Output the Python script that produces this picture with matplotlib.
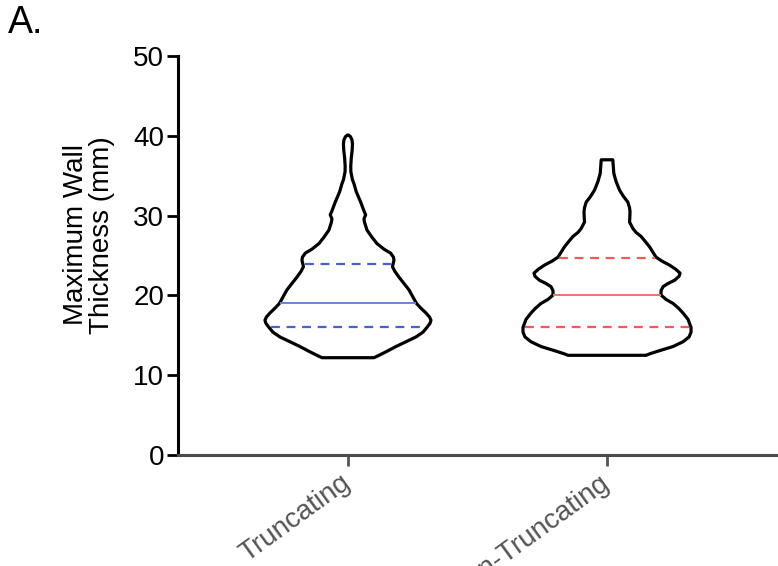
import numpy as np
import matplotlib
matplotlib.use('Agg')
import matplotlib.pyplot as plt

plt.rcParams.update({'font.family': 'Liberation Sans'})

groups = ['Truncating', 'Non-Truncating']

# violin outlines: wall thickness (mm) and relative density (half-width)
trunc_y = [12.2, 12.5, 13.0, 13.6, 14.2, 14.8, 15.4, 16.0, 16.5, 16.9, 17.3, 17.8,
           18.4, 19.0, 19.8, 20.7, 21.5, 22.3, 23.0, 23.6, 23.9, 24.4, 24.8, 25.3,
           25.8, 26.5, 27.3, 28.2, 29.2, 29.6, 30.1, 30.6, 31.7, 32.2, 33.0, 34.0,
           34.5, 35.5, 36.2, 37.2, 38.2, 39.0, 39.5, 39.9, 40.1]
trunc_d = [26, 31, 39, 48, 58, 68, 75, 79, 82, 83, 81.5, 78,
           73, 68.5, 65, 61, 56, 51, 47, 44.5, 45, 46, 45.5, 42.7,
           36, 29, 24, 19, 16.5, 16, 17.7, 16, 12.7, 11, 8.3, 6,
           4.5, 2.9, 2.8, 3.3, 4.2, 4.5, 4, 2.5, 0.5]

nontrunc_y = [12.5, 12.7, 13.1, 13.6, 14.2, 14.8, 15.4, 16.0, 17.0, 17.8, 18.4, 19.0,
              19.5, 20.05, 20.6, 21.1, 21.5, 21.9, 22.4, 22.8, 23.3, 23.8, 24.3, 24.8,
              25.5, 26.1, 26.8, 27.4, 27.9, 28.4, 29.2, 29.8, 30.5, 31.0, 31.7, 32.4,
              33.2, 34.3, 35.3, 36.3, 37.0]
nontrunc_d = [39, 43, 53, 66, 76, 82, 84, 84, 81, 76, 71.5, 66,
              59, 54, 54, 56, 61, 67.5, 72, 73, 68.5, 62.5, 55, 49,
              45.5, 42.5, 38, 34, 29, 25.8, 22.5, 22.8, 23, 22.5, 20.8, 16.5,
              12.5, 9, 6.8, 6.2, 5.8]

# 25th, 50th, 75th percentiles
trunc_q = [16.0, 19.0, 24.0]
nontrunc_q = [16.0, 20.0, 24.7]

profiles = [(trunc_y, trunc_d, trunc_q, '#4463cc', '#6a84da'),
            (nontrunc_y, nontrunc_d, nontrunc_q, '#f05a5a', '#f27272')]
scale = 1 / 259.0

fig = plt.figure(figsize=(7.78, 5.66), dpi=100)
ax = fig.add_axes([0.2288, 0.196, 0.7712, 0.705])

for i, (yy, dd, qq, qcol, mcol) in enumerate(profiles):
    yy = np.array(yy)
    hw = np.array(dd) * scale
    xs = np.concatenate([i - hw, (i + hw)[::-1]])
    ys = np.concatenate([yy, yy[::-1]])
    ax.fill(xs, ys, facecolor='white', edgecolor='black', lw=2.3, joinstyle='round', zorder=2)
    for k, q in enumerate(qq):
        w = np.interp(q, yy, hw) - 0.007
        if k == 1:
            ax.plot([i - w, i + w], [q, q], color=mcol, lw=1.4, zorder=3)
        else:
            ax.plot([i - w, i + w], [q, q], color=qcol, lw=1.6, ls=(0, (4, 3)), zorder=3)

ax.set_xlim(-0.656, 1.66)
ax.set_ylim(0, 50)
ax.set_yticks(range(0, 51, 10))
ax.set_xticks(range(len(groups)))
ax.set_xticklabels(groups, rotation=36, ha='right', va='center', rotation_mode='anchor',
                   fontsize=20, color='#555555')
ax.tick_params(axis='y', labelsize=20, length=8, width=2.0, pad=2)
ax.tick_params(axis='x', length=8, width=2.0, color='#555555', pad=10)
for s in ['top', 'right']:
    ax.spines[s].set_visible(False)
ax.spines['left'].set_linewidth(2.2)
ax.spines['bottom'].set_linewidth(2.2)
ax.spines['bottom'].set_color('#4a4a4a')

fig.text(0.114, 0.585, 'Maximum Wall\nThickness (mm)', rotation=90, fontsize=20,
         ha='center', va='center', multialignment='center', linespacing=1.0)

fig.text(0.01, 0.942, 'A.', fontsize=27, va='baseline')

fig.savefig('out.png', dpi=100)
